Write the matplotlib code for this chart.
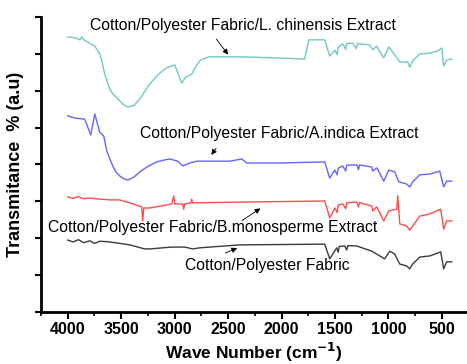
import numpy as np
import matplotlib
matplotlib.use('Agg')
import matplotlib.pyplot as plt
from matplotlib.ticker import MultipleLocator

plt.rcParams['font.family'] = ['Liberation Sans', 'DejaVu Sans']

# FTIR spectra (wavenumber cm-1, offset transmittance a.u.)
wn_lc = [4000, 3925, 3888, 3869, 3850, 3794, 3747, 3701, 3680, 3654, 3607, 3580, 3532, 3480,
         3439, 3380, 3326, 3280, 3233, 3160, 3093, 3050, 2999, 2934, 2896, 2840, 2810, 2765,
         2720, 2672, 2513, 2391, 2045, 1783, 1745, 1596, 1549,
         1500, 1480, 1470, 1427, 1400, 1390, 1334, 1300, 1290, 1175, 1147, 1109, 1044, 997,
         932, 894, 819, 801, 773, 707, 613, 539, 501, 483, 455, 408]
t_lc = [7.46, 7.43, 7.38, 7.46, 7.38, 7.29, 7.21, 7.00, 6.80, 6.45, 6.05, 5.92, 5.78, 5.63,
        5.56, 5.60, 5.78, 5.98, 6.18, 6.42, 6.59, 6.65, 6.70, 6.21, 6.37, 6.45, 6.62, 6.81,
        6.88, 6.92, 6.92, 6.92, 6.89, 6.86, 7.38, 7.38, 6.94,
        7.10, 6.98, 7.18, 7.27, 7.12, 7.28, 7.29, 7.14, 7.28, 7.24, 7.11, 7.21, 6.89, 7.19,
        6.94, 6.78, 6.78, 6.64, 6.81, 7.00, 7.02, 7.08, 7.16, 6.67, 6.83, 6.86]

wn_ai = [4000, 3935, 3841, 3785, 3747, 3701, 3663, 3635, 3610, 3579, 3550, 3514, 3480, 3439,
         3380, 3326, 3250, 3167, 3100, 3046,
         2971, 2924, 2859, 2793, 2484, 2372, 2325, 2017, 1596, 1549, 1502, 1480, 1470, 1427,
         1400, 1390, 1296, 1280, 1270, 1156, 1147, 1109, 1044, 997, 941, 904, 829, 801, 773,
         707, 613, 520, 483, 455, 408]
t_ai = [5.32, 5.26, 5.23, 4.80, 5.37, 4.88, 4.77, 4.37, 4.18, 3.96, 3.80, 3.69, 3.62, 3.58,
        3.66, 3.80, 3.95, 4.07, 4.12, 4.15,
        4.09, 3.96, 4.04, 4.09, 4.09, 4.15, 4.04, 4.04, 4.07, 3.63, 3.85, 3.72, 3.90, 3.96,
        3.82, 3.98, 3.99, 3.86, 3.99, 3.93, 3.82, 3.91, 3.55, 3.85, 3.80, 3.53, 3.47, 3.39,
        3.53, 3.72, 3.74, 3.82, 3.39, 3.55, 3.55]

wn_bm = [4000, 3950, 3900, 3850, 3794, 3700, 3600, 3514, 3326, 3308, 3298, 3289, 3233, 3139,
         3027, 3008, 2999, 2924, 2915, 2905, 2849, 2840, 2831, 2391, 1596, 1549, 1502, 1480,
         1470, 1427, 1400, 1390, 1296, 1280, 1270, 1156, 1147, 1109, 1044, 997, 922, 913, 894,
         829, 801, 773, 707, 613, 511, 483, 455, 408]
t_bm = [3.12, 3.08, 3.13, 3.07, 3.09, 3.06, 3.04, 3.04, 2.87, 2.85, 2.47, 2.82, 2.82, 2.87,
        2.93, 3.15, 2.93, 2.93, 2.79, 2.93, 2.96, 3.06, 2.96, 2.98, 3.01, 2.55, 2.82, 2.70,
        2.90, 2.93, 2.80, 2.96, 2.98, 2.85, 2.97, 2.87, 2.74, 2.85, 2.47, 2.74, 2.79, 3.15,
        2.39, 2.33, 2.22, 2.33, 2.60, 2.66, 2.79, 2.25, 2.47, 2.47]

wn_cp = [4000, 3950, 3900, 3850, 3794, 3750, 3700, 3607, 3420, 3280, 3233, 3027, 2905, 2831,
         2765, 2391, 1596, 1549, 1484, 1470, 1460, 1409, 1390, 1380, 1296, 1156, 1035, 988,
         941, 894, 829, 801, 773, 707, 613, 511, 483, 455, 408]
t_cp = [1.95, 1.90, 1.96, 1.88, 1.93, 1.86, 1.92, 1.90, 1.82, 1.71, 1.71, 1.76, 1.76, 1.71,
        1.74, 1.82, 1.84, 1.44, 1.74, 1.62, 1.78, 1.79, 1.68, 1.80, 1.79, 1.65, 1.44, 1.65,
        1.57, 1.30, 1.25, 1.17, 1.30, 1.49, 1.52, 1.63, 1.17, 1.36, 1.36]

labels = ['Cotton/Polyester Fabric/L. chinensis Extract',
          'Cotton/Polyester Fabric/A.indica Extract',
          'Cotton/Polyester Fabric/B.monosperme Extract',
          'Cotton/Polyester Fabric']

fig = plt.figure(figsize=(4.67, 3.64), dpi=100)
ax = fig.add_axes([0.0878, 0.1429, 0.9122, 0.8104])

ax.plot(wn_lc, t_lc, color='#72c8c4', lw=1)
ax.plot(wn_ai, t_ai, color='#6464ff', lw=1)
ax.plot(wn_bm, t_bm, color='#ff4c4c', lw=1)
ax.plot(wn_cp, t_cp, color='#3a3a3a', lw=1)

arrow = dict(arrowstyle='-|>', color='black', lw=0.6, mutation_scale=8)
fs = 11.3
ax.annotate(labels[0], xy=(2484, 6.92), xytext=(3794, 7.78), fontsize=fs,
            va='center', ha='left')
ax.annotate('', xy=(2484, 6.92), xytext=(2625, 7.46), arrowprops=arrow)
ax.annotate(labels[1], xy=(2672, 4.20), xytext=(3326, 4.83), fontsize=fs,
            va='center', ha='left')
ax.annotate('', xy=(2672, 4.20), xytext=(2597, 4.50), arrowprops=arrow)
ax.annotate(labels[2], xy=(2176, 2.85), xytext=(4187, 2.28), fontsize=fs,
            va='center', ha='left')
ax.annotate('', xy=(2176, 2.85), xytext=(2391, 2.44), arrowprops=arrow)
ax.annotate(labels[3], xy=(2391, 1.76), xytext=(2905, 1.25), fontsize=fs,
            va='center', ha='left')
ax.annotate('', xy=(2391, 1.76), xytext=(2550, 1.57), arrowprops=arrow)

ax.set_xlim(4250, 265)
ax.set_ylim(0, 8)
ax.xaxis.set_major_locator(MultipleLocator(500))
ax.xaxis.set_minor_locator(MultipleLocator(250))
ax.yaxis.set_major_locator(MultipleLocator(1))
ax.set_yticklabels([])
ax.tick_params(axis='x', which='major', direction='out', length=5, width=1.5,
               labelsize=11.5, pad=2)
ax.tick_params(axis='x', which='minor', direction='out', length=3, width=1.2)
ax.tick_params(axis='y', which='major', direction='out', length=4, width=1.5)
for lab in ax.get_xticklabels():
    lab.set_fontweight('bold')

for s in ['top', 'right']:
    ax.spines[s].set_visible(False)
ax.spines['left'].set_linewidth(2)
ax.spines['bottom'].set_linewidth(2)

ax.set_xlabel('Wave Number (cm$^{\\mathbf{-1}}$)', fontsize=12.5, fontweight='bold', labelpad=3)
ax.set_ylabel('Transmitance  % (a.u)', fontsize=13, fontweight='bold', labelpad=5)

fig.savefig('out.png', dpi=100)
